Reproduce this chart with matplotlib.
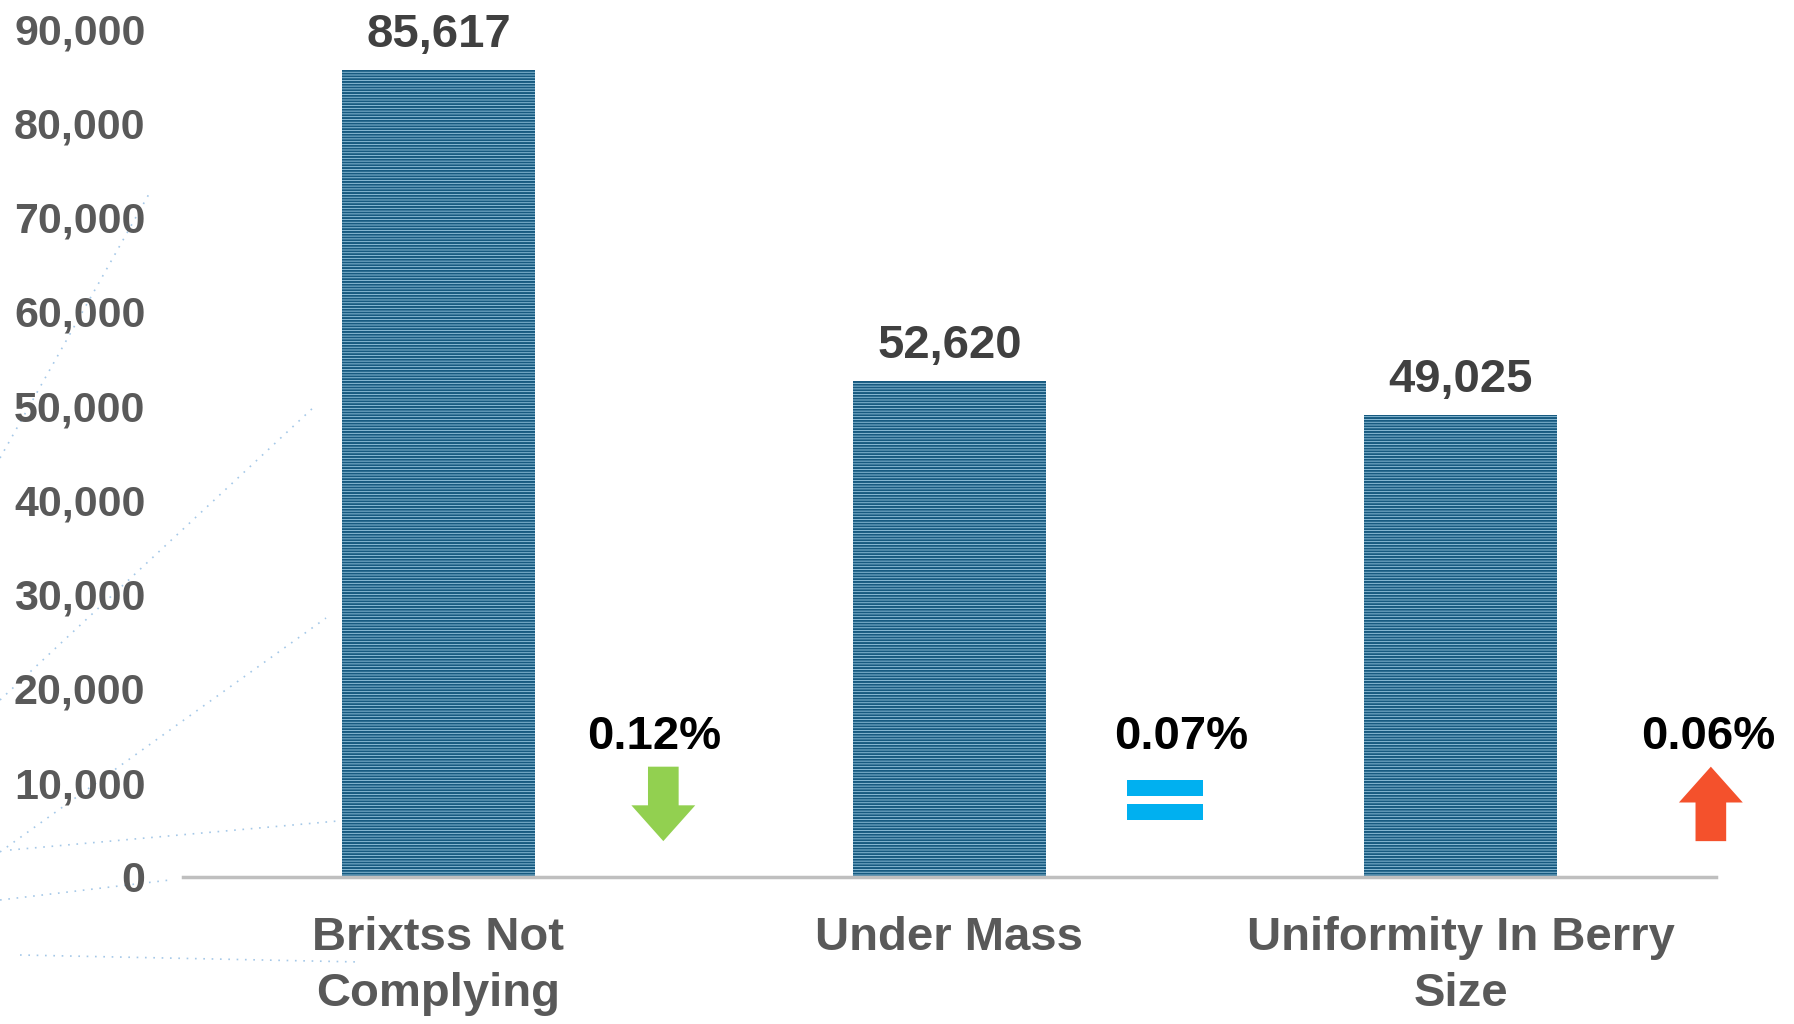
import matplotlib.pyplot as plt
from matplotlib.patches import FancyArrow, Rectangle
from matplotlib.ticker import FuncFormatter

plt.rcParams['font.family'] = ['Liberation Sans', 'DejaVu Sans']
plt.rcParams['hatch.linewidth'] = 1.45

categories = ['Brixtss Not\nComplying', 'Under Mass', 'Uniformity In Berry\nSize']
counts = [85617, 52620, 49025]
changes = ['0.12%', '0.07%', '0.06%']
trends = ['down', 'same', 'up']
yticks = [0, 10000, 20000, 30000, 40000, 50000, 60000, 70000, 80000, 90000]

# horizontal offset of the change labels from each bar
label_dx = [0.422, 0.453, 0.484]

fig = plt.figure(figsize=(17.94, 10.24), dpi=100)

# faint dotted decoration on the left
deco = fig.add_axes([0, 0, 1, 1], zorder=0)
deco.set_xlim(0, 1794)
deco.set_ylim(1024, 0)
deco.axis('off')
for (x0, y0, x1, y1) in [(0, 458, 149, 194), (0, 700, 315, 406), (0, 852, 326, 618),
                         (10, 850, 338, 821), (20, 955, 360, 962), (0, 900, 170, 880)]:
    deco.plot([x0, x1], [y0, y1], color='#5b9bd5', lw=1.2, ls=(0, (1, 4)), alpha=0.55)

ax = fig.add_axes([0.102, 0.1436, 0.8545, 0.8284], zorder=1)
ax.patch.set_alpha(0)
x = range(len(categories))
ax.bar(x, counts, width=0.378, color='#a6d3ea', edgecolor='#175a80', linewidth=0,
       hatch='------', zorder=2)

for i, v in enumerate(counts):
    ax.annotate(f'{v:,}', (i, v), xytext=(0, 9), textcoords='offset points',
                ha='center', va='bottom', fontsize=34, fontweight='bold',
                color='#404040', annotation_clip=False)

for i, (c, t) in enumerate(zip(changes, trends)):
    ax.text(i + label_dx[i], 14900, c, ha='center', va='center', fontsize=34,
            fontweight='bold', color='black', clip_on=False)
    if t == 'down':
        ax.add_patch(FancyArrow(i + 0.44, 11700, 0, -7900, width=0.06, head_width=0.125,
                                head_length=3800, length_includes_head=True,
                                color='#92d050', lw=0, clip_on=False))
    elif t == 'up':
        ax.add_patch(FancyArrow(i + 0.49, 3800, 0, 7900, width=0.06, head_width=0.125,
                                head_length=3800, length_includes_head=True,
                                color='#f4512c', lw=0, clip_on=False))
    else:
        for yb in (9440, 6890):
            ax.add_patch(Rectangle((i + 0.347, yb - 850), 0.149, 1700,
                                   color='#00b0f0', lw=0, clip_on=False))

ax.set_xlim(-0.5, 2.5)
ax.set_ylim(0, 90000)
ax.set_yticks(yticks)
ax.yaxis.set_major_formatter(FuncFormatter(lambda v, p: f'{int(v):,}'))
ax.set_xticks(list(x))
ax.set_xticklabels(categories, fontsize=34, fontweight='bold', color='#595959',
                   linespacing=1.36)
ax.tick_params(axis='y', length=0, pad=27, labelsize=31, labelcolor='#595959')
for lbl in ax.get_yticklabels():
    lbl.set_fontweight('bold')
ax.tick_params(axis='x', length=0, pad=28)
for s in ['top', 'right', 'left']:
    ax.spines[s].set_visible(False)
ax.spines['bottom'].set_color('#bfbfbf')
ax.spines['bottom'].set_linewidth(2.5)

fig.savefig('out.png', dpi=100)
